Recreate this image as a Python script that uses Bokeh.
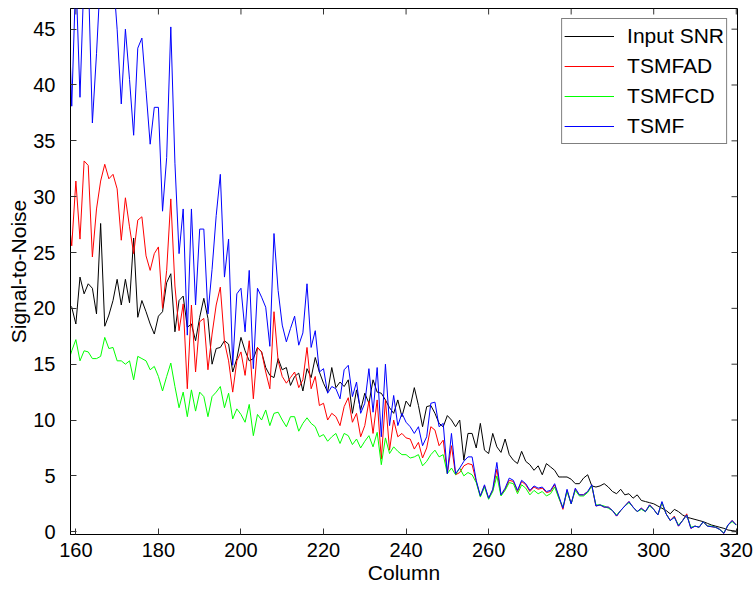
from bokeh.plotting import figure
from bokeh.models import Range1d, FixedTicker
from bokeh.embed import file_html
from bokeh.resources import INLINE

# Column positions (158 .. 320)
columns = list(range(158, 321))

input_snr = [
    20.5, 20.1, 18.6, 22.8, 21.3, 22.2, 21.8, 19.5, 27.6, 18.4,
    19.4, 20.7, 22.6, 20.3, 22.6, 20.5, 26.3, 19.2, 20.7, 19.7,
    18.6, 17.7, 19.3, 19.7, 22.3, 23.1, 17.9, 20.7, 21.1, 18.3,
    18.6, 17.1, 19.2, 20.9, 19.1, 15.0, 16.4, 16.5, 17.1, 16.8,
    14.3, 15.5, 17.4, 16.2, 15.3, 15.5, 16.5, 16.1, 14.7, 14.0,
    13.8, 15.5, 14.5, 14.7, 13.1, 13.9, 14.2, 12.6, 14.6, 13.8,
    15.6, 14.3, 13.3, 12.5, 14.7, 12.9, 13.4, 13.0, 13.6, 10.6,
    12.7, 10.9, 12.4, 11.5, 13.6, 12.5, 12.4, 11.8, 11.1, 10.6,
    11.8, 10.3, 11.7, 11.2, 12.9, 11.3, 9.4, 11.2, 11.3, 10.6,
    9.7, 9.4, 10.4, 10.0, 9.4, 10.0, 6.4, 8.8, 8.8, 7.5,
    9.7, 7.3, 7.0, 8.8, 7.6, 7.1, 8.3, 6.9, 6.4, 6.1,
    7.2, 6.3, 6.0, 5.5, 5.9, 5.1, 6.1, 5.8, 5.5, 4.9,
    4.9, 4.9, 4.7, 4.3, 4.3, 4.8, 5.1, 4.1, 4.0, 4.1,
    4.3, 4.0, 3.6, 3.4, 3.8, 3.3, 3.4, 3.0, 3.3, 2.8,
    2.7, 2.6, 2.5, 2.3, 2.1, 1.9, 1.6, 2.0, 1.8, 1.5,
    1.3, 1.2, 1.1, 1.0, 0.9, 0.75, 0.6, 0.5, 0.4, 0.3,
    0.15, 0.1, 0.05,
]

tsmfad = [
    29.0, 25.6, 31.4, 26.2, 33.2, 32.8, 24.6, 28.9, 31.4, 32.9,
    31.6, 32.0, 30.7, 26.1, 29.9, 27.3, 24.9, 27.9, 28.2, 24.7,
    23.4, 24.9, 25.5, 20.0, 23.4, 29.8, 22.0, 18.0, 20.4, 12.8,
    20.3, 14.3, 18.8, 19.1, 14.5, 17.7, 20.3, 21.9, 17.0, 15.3,
    12.5, 15.3, 16.1, 14.0, 17.1, 11.9, 16.5, 16.1, 14.3, 12.8,
    19.7, 15.3, 13.9, 13.3, 13.8, 14.3, 12.9, 13.6, 16.5, 12.8,
    13.9, 11.3, 11.5, 10.0, 10.6, 10.3, 9.5, 11.2, 12.0, 9.8,
    10.6, 8.5, 9.5, 11.7, 8.8, 11.8, 6.5, 11.8, 7.3, 10.0,
    8.5, 8.8, 8.4, 8.3, 7.4, 8.0, 6.6, 7.5, 9.4, 9.1,
    7.7, 8.2, 5.2, 7.7, 5.1, 5.3, 5.9, 6.1, 6.0, 4.5,
    3.2, 4.1, 3.0, 3.7, 5.6, 3.3, 3.8, 4.6, 4.5, 3.6,
    4.5, 4.2, 3.6, 4.0, 3.8, 3.9, 3.5, 3.6, 4.2, 3.1,
    2.0, 3.7, 2.5, 3.8, 3.3, 3.3, 3.6, 4.1, 2.3, 2.4,
    2.2, 2.2, 1.9, 1.4, 1.9, 2.3, 2.7, 2.2, 1.8, 2.1,
    1.8, 2.4, 2.0, 1.5, 2.6, 1.6, 1.0, 1.4, 0.5, 1.0,
    1.6, 0.3, 0.5, 0.4, 0.9, 0.5, 0.45, 0.4, 0.2, -0.15,
    0.6, 1.0, 0.6,
]

tsmfcd = [
    15.0, 16.2, 17.2, 15.3, 16.2, 16.1, 15.5, 15.5, 15.7, 17.4,
    16.4, 16.5, 15.3, 15.3, 15.0, 15.3, 13.6, 15.7, 15.5, 15.3,
    14.5, 14.8, 13.9, 12.6, 13.9, 15.1, 13.0, 11.1, 12.5, 10.3,
    12.7, 10.8, 12.5, 12.1, 10.3, 12.1, 12.5, 13.0, 11.1, 12.4,
    10.1, 11.0, 10.5, 9.8, 11.4, 8.6, 10.5, 10.0, 10.9, 9.5,
    10.6, 10.7, 10.0, 9.4, 10.3, 10.3, 9.0, 9.7, 10.2, 9.7,
    9.4, 8.5, 8.7, 8.1, 8.5, 8.8, 7.9, 8.8, 8.6, 7.8,
    8.3, 7.5, 8.1, 8.6, 7.6, 8.9, 6.0, 8.4, 7.0, 7.6,
    7.2, 6.9, 6.9, 6.6, 6.7, 6.9, 5.9, 6.3, 6.9, 7.3,
    6.7, 6.9, 5.2, 5.7, 5.1, 5.7, 5.0, 5.3, 5.1, 4.4,
    3.1, 4.0, 2.9, 3.6, 5.0, 3.2, 3.7, 4.4, 4.3, 3.4,
    4.2, 3.9, 3.3, 3.7, 3.4, 3.6, 3.2, 3.4, 4.0, 3.0,
    2.2, 3.6, 2.5, 3.7, 3.2, 3.2, 3.5, 4.1, 2.4, 2.4,
    2.3, 2.1, 1.9, 1.5, 1.9, 2.3, 2.6, 2.2, 1.8, 2.0,
    1.8, 2.3, 2.0, 1.5, 2.6, 1.6, 1.0, 1.3, 0.6, 1.0,
    1.5, 0.4, 0.5, 0.4, 0.9, 0.5, 0.5, 0.4, 0.2, -0.1,
    0.6, 0.9, 0.6,
]

tsmf = [
    50.0, 38.1, 50.0, 38.9, 50.0, 50.0, 36.6, 42.8, 50.0, 52.0,
    52.0, 50.0, 45.0, 38.3, 45.0, 40.5, 35.5, 43.3, 44.2, 39.5,
    34.7, 38.0, 38.0, 28.7, 33.5, 45.2, 33.0, 24.9, 28.9, 17.6,
    28.9, 20.3, 27.1, 27.1, 19.5, 23.5, 28.3, 32.0, 22.8, 26.2,
    14.9, 21.3, 21.8, 17.9, 23.4, 14.6, 21.8, 21.0, 20.1, 16.6,
    26.7, 21.6, 18.5, 17.0, 18.2, 19.3, 16.7, 17.8, 22.2, 16.5,
    18.0, 14.3, 14.6, 12.4, 13.0, 12.8, 11.9, 14.5, 14.9, 12.1,
    13.4, 10.6, 11.5, 14.6, 10.7, 14.7, 8.5, 15.0, 9.5, 12.2,
    9.5, 10.6, 9.8, 9.4, 8.8, 9.4, 7.7, 8.5, 11.5, 11.6,
    9.4, 9.7, 5.2, 8.8, 5.2, 5.7, 6.3, 6.7, 6.7, 4.6,
    3.2, 4.2, 3.0, 3.8, 6.2, 3.3, 3.9, 4.8, 4.6, 3.7,
    4.6, 4.3, 3.7, 4.1, 3.9, 4.0, 3.6, 3.7, 4.3, 3.2,
    2.1, 3.8, 2.5, 3.9, 3.3, 3.3, 3.6, 4.2, 2.3, 2.4,
    2.2, 2.2, 1.9, 1.4, 1.9, 2.3, 2.7, 2.2, 1.8, 2.1,
    1.8, 2.4, 2.0, 1.5, 2.7, 1.6, 1.0, 1.3, 0.5, 1.0,
    1.5, 0.3, 0.5, 0.4, 0.9, 0.5, 0.45, 0.4, 0.2, -0.15,
    0.6, 1.0, 0.6,
]

series_names = ["Input SNR", "TSMFAD", "TSMFCD", "TSMF"]
series_colors = ["#000000", "#ff0000", "#00ff00", "#0000ff"]
x_ticks = [160, 180, 200, 220, 240, 260, 280, 300, 320]
y_ticks = [0, 5, 10, 15, 20, 25, 30, 35, 40, 45]

FONT = "Liberation Sans"
TICK_FS = "20px"
LABEL_FS = "21px"

X_MIN, X_MAX = 158.7, 320.3
Y_MIN, Y_MAX = -0.25, 46.85

p = figure(width=754, height=589,
           x_range=Range1d(X_MIN, X_MAX), y_range=Range1d(Y_MIN, Y_MAX),
           output_backend="svg", toolbar_location=None,
           min_border_left=70, min_border_right=17,
           min_border_top=8, min_border_bottom=55)
p.xgrid.visible = False
p.ygrid.visible = False
p.outline_line_color = "black"
p.outline_line_width = 1
p.background_fill_color = "white"
p.border_fill_color = "white"

# inward tick marks on the top and right edges of the box (MATLAB style)
tick_len_x = 6 * (X_MAX - X_MIN) / 667.0
tick_len_y = 6 * (Y_MAX - Y_MIN) / 526.5
p.segment(x0=x_ticks, y0=[Y_MAX] * len(x_ticks),
          x1=x_ticks, y1=[Y_MAX - tick_len_y] * len(x_ticks),
          line_color="#333333", line_width=1)
p.segment(x0=[X_MAX] * len(y_ticks), y0=y_ticks,
          x1=[X_MAX - tick_len_x] * len(y_ticks), y1=y_ticks,
          line_color="#333333", line_width=1)

for name, color, vals in zip(series_names, series_colors,
                             [input_snr, tsmfad, tsmfcd, tsmf]):
    p.line(columns, vals, line_color=color, line_width=1, legend_label=name)

xa = p.xaxis[0]
ya = p.yaxis[0]
for ax, ticks in ((xa, x_ticks), (ya, y_ticks)):
    ax.ticker = FixedTicker(ticks=ticks)
    ax.major_tick_in = 6
    ax.major_tick_out = 0
    ax.minor_tick_in = 0
    ax.minor_tick_out = 0
    ax.major_tick_line_color = "#333333"
    ax.axis_line_color = "black"
    ax.axis_line_width = 1
    ax.major_label_text_font = FONT
    ax.major_label_text_font_size = TICK_FS
    ax.major_label_text_color = "black"
    ax.axis_label_text_font = FONT
    ax.axis_label_text_font_size = LABEL_FS
    ax.axis_label_text_font_style = "normal"
    ax.axis_label_text_color = "black"

xa.axis_label = "Column"
ya.axis_label = "Signal-to-Noise"
xa.major_label_standoff = 8
ya.major_label_standoff = 15
xa.axis_label_standoff = 1
ya.axis_label_standoff = 0

lg = p.legend[0]
lg.location = "top_right"
lg.margin = 10
lg.border_line_color = "black"
lg.border_line_width = 1
lg.background_fill_color = "white"
lg.background_fill_alpha = 1
lg.padding = 2
lg.spacing = 0
lg.glyph_width = 50
lg.glyph_height = 30
lg.label_height = 30
lg.label_standoff = 13
lg.label_text_font = FONT
lg.label_text_font_size = LABEL_FS
lg.label_text_color = "black"

open("out.html", "w").write(file_html(p, INLINE))
